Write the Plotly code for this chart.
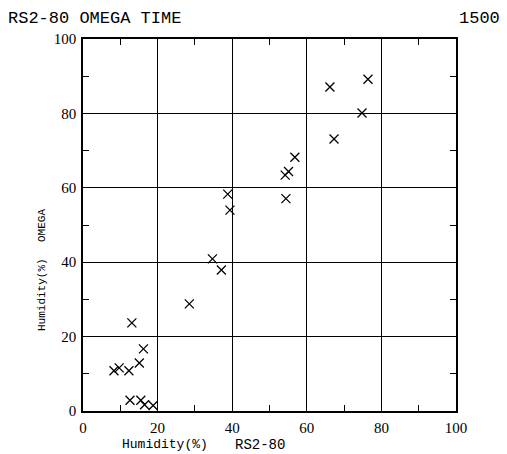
import plotly.graph_objects as go

# Paired humidity readings (%): RS2-80 sonde vs. OMEGA sensor
rs2_80 = [8.3, 9.7, 12.3, 13.1, 15.1, 16.2, 12.6, 15.5, 16.5, 18.8,
          28.5, 34.7, 37.1, 38.8, 39.4, 54.2, 54.4, 55.1, 56.8,
          66.2, 67.3, 74.8, 76.4]
omega = [10.8, 11.6, 10.8, 23.7, 12.9, 16.7, 2.9, 2.9, 1.7, 1.5,
         28.8, 40.9, 37.9, 58.3, 54.0, 63.4, 57.1, 64.4, 68.2,
         87.1, 73.1, 80.1, 89.2]

tick_vals = [0, 20, 40, 60, 80, 100]
tick_text = ["0", "20", "40", "60", "80", "100"]
minor_vals = [10, 30, 50, 70, 90]

mono = "Liberation Mono"
serif = "Liberation Serif"

fig = go.Figure(
    go.Scatter(
        x=rs2_80, y=omega, mode="markers",
        marker=dict(symbol="x-thin", size=9, color="black",
                    line=dict(color="black", width=1.3)),
        showlegend=False,
    )
)

# Invisible helper trace so the secondary axes (inward minor ticks) render
fig.add_trace(go.Scatter(x=[None], y=[None], xaxis="x2", yaxis="y2",
                         showlegend=False, hoverinfo="skip"))

axis_common = dict(
    range=[0, 100],
    tickvals=tick_vals, ticktext=tick_text,
    ticks="", showgrid=True, gridcolor="black", gridwidth=1.3,
    showline=True, linecolor="black", linewidth=1.6, mirror=True,
    zeroline=False,
    tickfont=dict(family=serif, size=15, color="black"),
)
minor_axis = dict(
    range=[0, 100], tickvals=minor_vals, ticks="inside", ticklen=6,
    tickwidth=1.3, tickcolor="black", showticklabels=False,
    showgrid=False, zeroline=False, showline=False, mirror="ticks",
)

fig.update_layout(
    xaxis=dict(**axis_common, ticklabelstandoff=2),
    yaxis=dict(**axis_common, ticklabelstandoff=2),
    xaxis2=dict(**minor_axis, overlaying="x", anchor="y2"),
    yaxis2=dict(**minor_axis, overlaying="y", anchor="x2"),
)

W, H = 507, 454
L, R, T, B = 83, 51, 39, 43
pw, ph = W - L - R, H - T - B


def label(text, px, py, size, family=mono, angle=0, xanchor="center"):
    return dict(
        text=text, showarrow=False, xref="paper", yref="paper",
        x=(px - L) / pw, y=1 - (py - T) / ph,
        xanchor=xanchor, yanchor="middle", textangle=angle,
        font=dict(family=family, size=size, color="black"),
    )


fig.update_layout(
    width=W, height=H,
    margin=dict(l=L, r=R, t=T, b=B),
    plot_bgcolor="white", paper_bgcolor="white",
    annotations=[
        label("RS2-80 OMEGA TIME", 6, 18, 17, xanchor="left"),
        label("1500", 502, 18, 17, xanchor="right"),
        label("Humidity(%)", 165, 445, 13),
        label("RS2-80", 260, 445, 14),
        label("OMEGA", 42, 226, 11, angle=-90),
        label("Humidity(%)", 42, 295, 11, angle=-90),
    ],
)

fig.write_html("out.html")
